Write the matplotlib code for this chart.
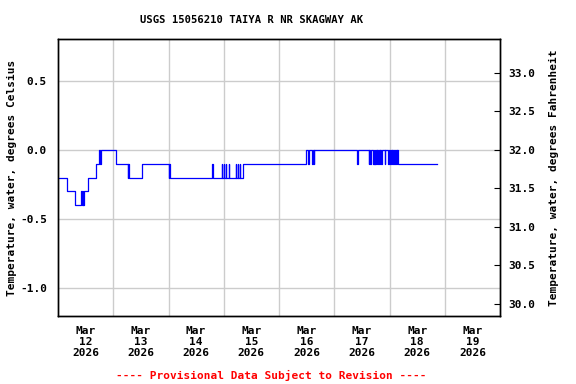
import matplotlib
matplotlib.use("Agg")
import matplotlib.pyplot as plt
import matplotlib.dates as mdates
import numpy as np
import pandas as pd

# ---- data ----
start = pd.Timestamp("2026-03-12 00:00")
change_hours = [0.0, 3.9, 7.5, 10.0, 10.4, 10.7, 11.0, 11.4, 13.2, 16.3,
                18.0, 18.3, 18.8, 25.0, 30.4, 30.6, 31.0, 36.5, 48.1, 48.4,
                48.8, 67.1, 67.35, 71.1, 71.35, 72.0, 72.25, 72.9, 73.15,
                74.2, 74.45, 77.2, 77.45, 78.1, 78.35, 79.0, 79.25, 80.2,
                107.8, 108.7, 108.95, 110.4, 110.65, 111.1, 111.35,
                129.9, 130.15, 135.0, 135.25, 135.6, 135.85, 136.9, 137.15,
                137.3, 137.55, 137.9, 138.15, 138.5, 138.75, 139.1, 139.35,
                139.8, 140.05, 140.5, 140.75, 142.0, 142.25, 143.5, 143.75,
                144.3, 144.55, 144.9, 145.15, 145.6, 145.85, 146.4, 146.65,
                147.1, 147.35, 147.8, 164.75]
change_values = [-0.2, -0.3, -0.4, -0.3, -0.4, -0.3, -0.4, -0.3, -0.2, -0.1,
                 0.0, -0.1, 0.0, -0.1, -0.2, -0.1, -0.2, -0.1, -0.2, -0.1,
                 -0.2, -0.1, -0.2, -0.1, -0.2, -0.1, -0.2, -0.1, -0.2,
                 -0.1, -0.2, -0.1, -0.2, -0.1, -0.2, -0.1, -0.2, -0.1,
                 0.0, -0.1, 0.0, -0.1, 0.0, -0.1, 0.0,
                 -0.1, 0.0, -0.1, 0.0, -0.1, 0.0, -0.1, 0.0,
                 -0.1, 0.0, -0.1, 0.0, -0.1, 0.0, -0.1, 0.0,
                 -0.1, 0.0, -0.1, 0.0, -0.1, 0.0, -0.1, 0.0,
                 -0.1, 0.0, -0.1, 0.0, -0.1, 0.0, -0.1, 0.0,
                 -0.1, 0.0, -0.1, -0.1]
day_labels = ["Mar\n12\n2026", "Mar\n13\n2026", "Mar\n14\n2026", "Mar\n15\n2026",
              "Mar\n16\n2026", "Mar\n17\n2026", "Mar\n18\n2026", "Mar\n19\n2026"]
left_ticks = [-1.0, -0.5, 0.0, 0.5]
right_ticks = [30.0, 30.5, 31.0, 31.5, 32.0, 32.5, 33.0]

times = [start + pd.Timedelta(hours=h) for h in change_hours]

plt.rcParams['font.family'] = ['DejaVu Sans Mono']
plt.rcParams['font.weight'] = 'bold'
FS = 8

fig = plt.figure(figsize=(5.76, 3.84), dpi=100)
ax = fig.add_axes([58/576, 1-316/384, 442/576, 277/384])

ax.step(times, change_values, where='post', color='#0000ff', lw=0.9)

x0 = mdates.date2num(start)
ax.set_xlim(x0, x0 + 8)
ymin, ymax = -1.2, 0.8
ax.set_ylim(ymin, ymax)

# labels at noon, grid at midnight
ax.set_xticks([x0 + i + 0.5 for i in range(8)])
ax.set_xticklabels(day_labels, fontsize=FS, fontweight='bold', linespacing=1.15)
ax.set_xticks([x0 + i for i in range(1, 8)], minor=True)
ax.tick_params(axis='x', which='both', length=0, pad=7)
ax.grid(True, which='minor', axis='x', color='#cccccc', lw=1)

ax.set_yticks(left_ticks)
ax.set_yticklabels([f"{v:.1f}" for v in left_ticks], fontsize=FS, fontweight='bold')
ax.tick_params(axis='y', length=0, pad=8)
ax.grid(True, which='major', axis='y', color='#cccccc', lw=1)
ax.set_axisbelow(True)
ax.set_ylabel("Temperature, water, degrees Celsius", fontsize=FS, fontweight='bold', labelpad=2)

ax2 = ax.twinx()
ax2.set_ylim(32 + 1.8*ymin, 32 + 1.8*ymax)
ax2.set_yticks(right_ticks)
ax2.set_yticklabels([f"{v:.1f}" for v in right_ticks], fontsize=FS, fontweight='bold')
ax2.tick_params(axis='y', direction='in', length=4, pad=6)
ax2.set_ylabel("Temperature, water, degrees Fahrenheit", fontsize=FS, fontweight='bold', labelpad=10)

for a in (ax, ax2):
    for s in a.spines.values():
        s.set_linewidth(1)
        s.set_color('black')

fig.text(252/576, 1-20/384, "USGS 15056210 TAIYA R NR SKAGWAY AK", ha='center', va='center',
         fontsize=7.6, fontweight='bold')
fig.text(271/576, 1-375/384, "---- Provisional Data Subject to Revision ----", ha='center',
         va='center', fontsize=FS, fontweight='bold', color='red')

fig.savefig("out.png", dpi=100)
